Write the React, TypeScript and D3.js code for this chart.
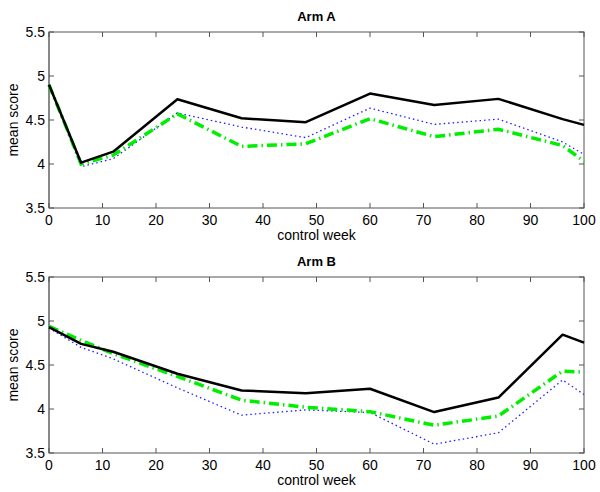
import React from "react";
import * as d3 from "d3";

const weeks = [0, 6, 12, 24, 36, 48, 60, 72, 84, 96, 100];
const xTicks = [0, 10, 20, 30, 40, 50, 60, 70, 80, 90, 100];
const yTicks = [3.5, 4, 4.5, 5, 5.5];
const yTickLabels = ["3.5", "4", "4.5", "5", "5.5"];

const armABlack = [4.9, 4.015, 4.14, 4.735, 4.52, 4.475, 4.8, 4.67, 4.74, 4.51, 4.445];
const armABlue = [4.9, 3.97, 4.06, 4.58, 4.42, 4.3, 4.635, 4.45, 4.51, 4.25, 4.11];
const armAGreen = [4.9, 4.0, 4.1, 4.57, 4.2, 4.23, 4.515, 4.31, 4.395, 4.21, 4.03];

const armBBlack = [4.93, 4.74, 4.65, 4.4, 4.21, 4.18, 4.23, 3.965, 4.13, 4.845, 4.755];
const armBBlue = [4.92, 4.7, 4.57, 4.24, 3.93, 3.99, 3.96, 3.6, 3.73, 4.33, 4.165];
const armBGreen = [4.94, 4.78, 4.63, 4.37, 4.1, 4.02, 3.97, 3.815, 3.92, 4.43, 4.42];

const panels = [
  { title: "Arm A", top: 32, black: armABlack, blue: armABlue, green: armAGreen },
  { title: "Arm B", top: 277, black: armBBlack, blue: armBBlue, green: armBGreen },
];

const LEFT = 49;
const RIGHT = 584;
const H = 176;
const FONT = "'Liberation Sans', Arial, Helvetica, sans-serif";

function Panel({ p }: { p: typeof panels[number] }) {
  const x = d3.scaleLinear().domain([0, 100]).range([LEFT, RIGHT]);
  const y = d3.scaleLinear().domain([3.5, 5.5]).range([p.top + H, p.top]);
  const line = (vals: number[]) =>
    d3.line<number>().x((_, i) => x(weeks[i])).y((v) => y(v))(vals) || "";
  const bottom = p.top + H;
  const axisColor = "#555";
  return (
    <g>
      <text x={(LEFT + RIGHT) / 2} y={p.top - 11} textAnchor="middle" fontFamily={FONT} fontWeight="bold" fontSize={13}>
        {p.title}
      </text>
      <rect x={LEFT} y={p.top} width={RIGHT - LEFT} height={H} fill="white" stroke={axisColor} strokeWidth={1} />
      <line x1={LEFT} x2={LEFT} y1={p.top} y2={bottom} stroke="#888" strokeWidth={2} />
      {xTicks.map((t) => (
        <g key={"x" + t}>
          <line x1={x(t)} x2={x(t)} y1={bottom} y2={bottom - 5} stroke={axisColor} />
          <line x1={x(t)} x2={x(t)} y1={p.top} y2={p.top + 5} stroke={axisColor} />
          <text x={x(t)} y={bottom + 17} textAnchor="middle" fontFamily={FONT} fontSize={14}>
            {t}
          </text>
        </g>
      ))}
      {yTicks.map((t, i) => (
        <g key={"y" + t}>
          <line x1={LEFT} x2={LEFT + 5} y1={y(t)} y2={y(t)} stroke={axisColor} />
          <line x1={RIGHT} x2={RIGHT - 5} y1={y(t)} y2={y(t)} stroke={axisColor} />
          <text x={LEFT - 4} y={y(t) + 5} textAnchor="end" fontFamily={FONT} fontSize={14}>
            {yTickLabels[i]}
          </text>
        </g>
      ))}
      <text x={(LEFT + RIGHT) / 2} y={bottom + 32} textAnchor="middle" fontFamily={FONT} fontSize={14}>
        control week
      </text>
      <text
        transform={`translate(18,${p.top + H / 2}) rotate(-90)`}
        textAnchor="middle"
        fontFamily={FONT}
        fontSize={14}
      >
        mean score
      </text>
      <path d={line(p.blue)} fill="none" stroke="#2020ff" strokeWidth={1.3} strokeDasharray="1.5,3" />
      <path d={line(p.green)} fill="none" stroke="#00ee00" strokeWidth={3.5} strokeDasharray="10,4,1.5,4" />
      <path d={line(p.black)} fill="none" stroke="#000" strokeWidth={2.5} strokeLinejoin="round" />
    </g>
  );
}

export default function App() {
  return (
    <svg width={600} height={492} style={{ position: "absolute", left: 0, top: 0, background: "white" }}>
      <rect x={0} y={0} width={600} height={492} fill="white" />
      {panels.map((p) => (
        <Panel key={p.title} p={p} />
      ))}
    </svg>
  );
}
